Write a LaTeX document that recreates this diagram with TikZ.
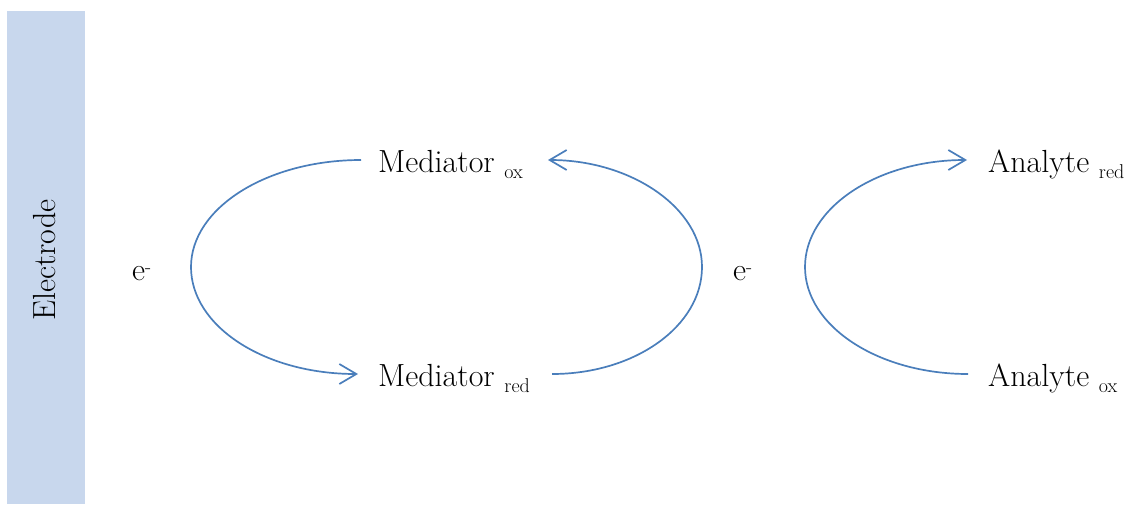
\documentclass[tikz,border=0pt]{standalone}
\usetikzlibrary{arrows.meta}

\definecolor{cyclecolor}{RGB}{74,126,187}
\definecolor{electrodefill}{RGB}{200,215,237}

% subscript / superscript pieces set in the smaller size
\newcommand{\chemsub}[1]{\raisebox{-6.5pt}{\fontsize{20}{24}\selectfont #1}}
\newcommand{\chemsupminus}{\raisebox{6.5pt}{\fontsize{20}{24}\selectfont -}}

\begin{document}
\begin{tikzpicture}[x=1pt,y=-1pt,
  chem/.style={inner sep=0pt, font=\fontsize{32}{38}\selectfont, anchor=base west},
  cycleline/.style={draw=cyclecolor, line width=1.7pt},
  tipped/.style={-{Straight Barb[length=17pt,width=20pt,line width=1.7pt]}}]
\useasboundingbox (0,0) rectangle (1127,504);

% electrode bar
\node[fill=electrodefill, minimum width=78pt, minimum height=493pt,
      inner sep=0pt, anchor=north west] (electrode) at (7,11) {};
\node[inner sep=0pt, font=\fontsize{32}{38}\selectfont, rotate=90, anchor=base]
      (electrodetext) at (55,260) {Electrode};

% species
\node[chem] (medox)  at (378,172) {Mediator \chemsub{ox}};
\node[chem] (medred) at (378,386) {Mediator \chemsub{red}};
\node[chem] (anred)  at (988,172) {Analyte \chemsub{red}};
\node[chem] (anox)   at (988,386) {Analyte \chemsub{ox}};
\node[chem] (eleft)  at (132,280) {e\chemsupminus};
\node[chem] (eright) at (733,280) {e\chemsupminus};

% curve end points next to the species
\coordinate (medoxL)  at (361,160);
\coordinate (medoxR)  at (548,160);
\coordinate (medredL) at (358,374);
\coordinate (medredR) at (552,374);
\coordinate (anredL)  at (967,160);
\coordinate (anoxL)   at (968,374);
\coordinate (turnA) at (191,267);
\coordinate (turnB) at (702,267);
\coordinate (turnC) at (805,267);

% electrode side: Mediator ox -> Mediator red
\draw[cycleline, tipped] (medoxL) .. controls +(-94,0) and +(0,-59) .. (turnA)
      .. controls +(0,59) and +(-94,0) .. (medredL);
% Mediator red -> Mediator ox
\draw[cycleline, tipped] (medredR) .. controls +(83,0) and +(0,59) .. (turnB)
      .. controls +(0,-59) and +(83,0) .. (medoxR);
% Analyte ox -> Analyte red
\draw[cycleline, tipped] (anoxL) .. controls +(-90,0) and +(0,59) .. (turnC)
      .. controls +(0,-59) and +(-90,0) .. (anredL);
\end{tikzpicture}
\end{document}
